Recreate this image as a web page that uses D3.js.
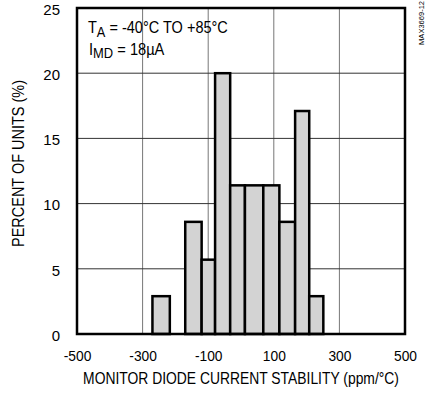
<!DOCTYPE html>
<html>
<head>
<meta charset="utf-8">
<script src="https://cdn.jsdelivr.net/npm/d3@7"></script>
<style>
  body { margin: 0; background: #fff; }
  svg text { font-family: "Liberation Sans", Arial, sans-serif; fill: #000; }
</style>
</head>
<body>
<div id="graf"></div>
<script>
// datos
var binLo   = [-270, -170, -120, -79, -33, 12, 68, 117, 165, 208]
var binHi   = [-217, -120, -79, -33, 12, 68, 117, 165, 208, 251]
var percent = [2.9, 8.6, 5.7, 20.0, 11.4, 11.4, 11.4, 8.6, 17.1, 2.9]
var xTicks  = [-500, -300, -100, 100, 300, 500]
var yTicks  = [0, 5, 10, 15, 20, 25]
var xGrid   = [-300, -100, 100, 300]
var yGrid   = [5, 10, 15, 20]

var ancho_total = 425
var alto_total  = 402
var margins = { top: 8, left: 77, right: 20, bottom: 68 }
var ancho = ancho_total - margins.left - margins.right
var alto  = alto_total - margins.top - margins.bottom

var svg = d3.select('#graf').append('svg')
          .attr('width', ancho_total)
          .attr('height', alto_total)

var g = svg.append('g')
        .attr('transform', `translate(${ margins.left }, ${ margins.top })`)

// Escaladores
var x = d3.scaleLinear().domain([-500, 500]).range([0, ancho])
var y = d3.scaleLinear().domain([0, 25]).range([alto, 0])

// texto "angosto": escala horizontal para llegar al ancho medido
function angosto(sel, tx, ty, w, rot) {
  var bw = sel.node().getBBox().width
  sel.attr('transform', `translate(${tx}, ${ty})` + (rot ? ` rotate(${rot})` : '') + ` scale(${w / bw}, 1)`)
}

// rejilla
g.selectAll('.vgrid').data(xGrid).enter().append('line')
  .attr('x1', d => x(d)).attr('x2', d => x(d))
  .attr('y1', 0).attr('y2', alto)
  .attr('stroke', '#777').attr('stroke-width', 1)
g.selectAll('.hgrid').data(yGrid).enter().append('line')
  .attr('x1', 0).attr('x2', ancho)
  .attr('y1', d => y(d)).attr('y2', d => y(d))
  .attr('stroke', '#333').attr('stroke-width', 1)

// barras
var datos = percent.map((p, i) => ({ lo: binLo[i], hi: binHi[i], p: p }))
g.selectAll('.barra').data(datos).enter().append('rect')
  .attr('x', d => x(d.lo))
  .attr('width', d => x(d.hi) - x(d.lo))
  .attr('y', d => y(d.p))
  .attr('height', d => y(0) - y(d.p))
  .attr('fill', '#d3d3d3')
  .attr('stroke', '#000')
  .attr('stroke-width', 2.5)

// marco
g.append('rect')
  .attr('width', ancho).attr('height', alto)
  .attr('fill', 'none').attr('stroke', '#000').attr('stroke-width', 2.5)

// Ejes
var xAxis = g.append('g')
  .attr('transform', `translate(0, ${alto})`)
  .call(d3.axisBottom(x).tickValues(xTicks).tickFormat(d => String(d)).tickSize(0).tickPadding(16))
var yAxis = g.append('g')
  .call(d3.axisLeft(y).tickValues(yTicks).tickFormat(d => String(d)).tickSize(0).tickPadding(17))
svg.selectAll('.domain').remove()
svg.selectAll('.tick text').style('font-size', '15px')
xAxis.selectAll('.tick text').attr('transform', 'scale(0.92, 1)')
yAxis.selectAll('.tick text').attr('dy', '0.42em')

// titulos
var tx = svg.append('text')
  .attr('text-anchor', 'middle')
  .style('font-size', '16px')
  .text('MONITOR DIODE CURRENT STABILITY (ppm/°C)')
angosto(tx, 241, 383.5, 316)

var ty = svg.append('text')
  .attr('text-anchor', 'middle')
  .style('font-size', '16px')
  .text('PERCENT OF UNITS (%)')
angosto(ty, 24, 163.5, 167, -90)

// anotaciones
var t1 = svg.append('text').style('font-size', '17px')
t1.append('tspan').text('T')
t1.append('tspan').attr('dy', 3.3).style('font-size', '15px').text('A')
t1.append('tspan').attr('dy', -3.3).text(' = -40°C TO +85°C')
angosto(t1, 88, 33.3, 140)

var t2 = svg.append('text').style('font-size', '17px')
t2.append('tspan').text('I')
t2.append('tspan').attr('dy', 3.3).style('font-size', '15px').text('MD')
t2.append('tspan').attr('dy', -3.3).text(' = 18µA')
angosto(t2, 89, 55, 76)

var wm = svg.append('text')
  .attr('text-anchor', 'end')
  .style('font-size', '7.5px')
  .text('MAX3669-12')
angosto(wm, 423.5, 1, 44, -90)
</script>
</body>
</html>
